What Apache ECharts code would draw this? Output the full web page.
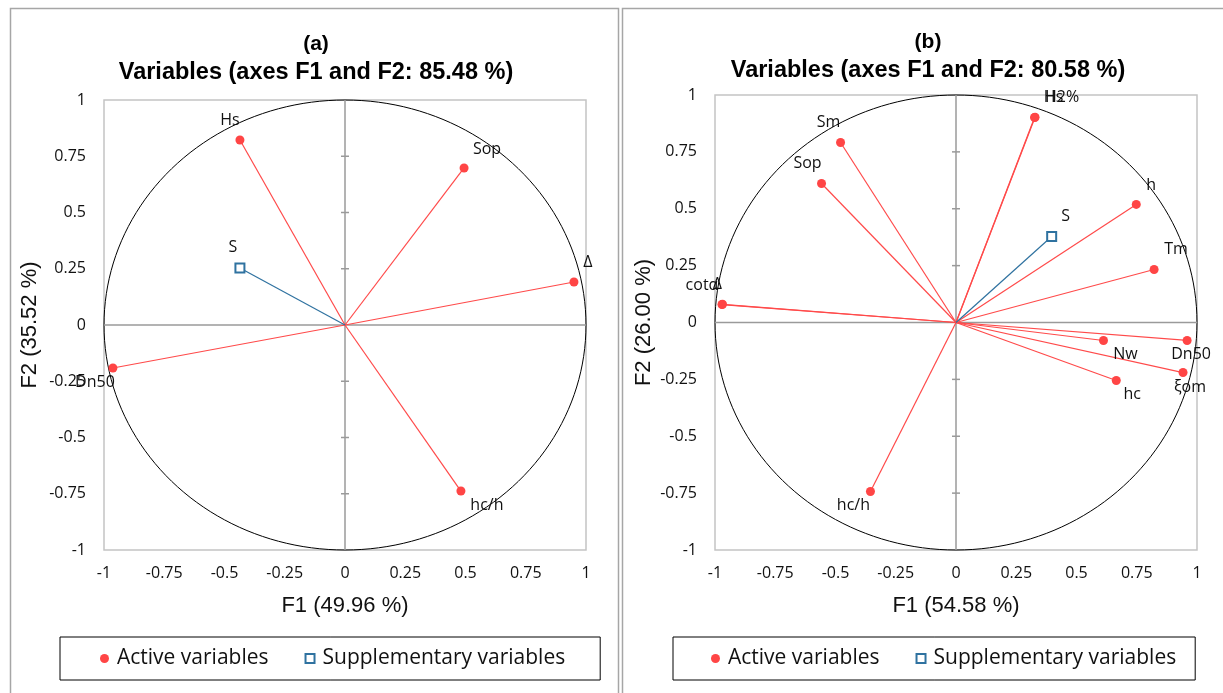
<!DOCTYPE html>
<html>
<head>
<meta charset="utf-8">
<title>Variables (axes F1 and F2)</title>
<script src="https://cdn.jsdelivr.net/npm/echarts@6/dist/echarts.min.js"></script>
<style>
  html, body { margin: 0; padding: 0; background: #fff; }
  #chart { width: 1223px; height: 693px; }
</style>
</head>
<body>
<div id="chart"></div>
<script>
// Axis ticks shared by both correlation circles
const ticks = [-1, -0.75, -0.5, -0.25, 0, 0.25, 0.5, 0.75, 1];

// Panel (a): active variables
const namesA = ['Hs', 'Sop', 'Δ', 'Dn50', 'hc/h'];
const f1A = [-0.436, 0.494, 0.950, -0.963, 0.481];
const f2A = [0.822, 0.698, 0.191, -0.191, -0.738];
// Panel (a): supplementary variables
const suppNamesA = ['S'];
const suppF1A = [-0.436];
const suppF2A = [0.253];

// Panel (b): active variables
const namesB = ['Hs', 'H2%', 'Sm', 'Sop', 'h', 'Tm', 'cotα', 'Δ', 'Dn50', 'Nw', 'ξom', 'hc', 'hc/h'];
const f1B = [0.326, 0.328, -0.479, -0.558, 0.748, 0.822, -0.971, -0.969, 0.959, 0.612, 0.942, 0.665, -0.355];
const f2B = [0.901, 0.902, 0.791, 0.611, 0.519, 0.233, 0.079, 0.080, -0.079, -0.079, -0.220, -0.255, -0.743];
// Panel (b): supplementary variables
const suppNamesB = ['S'];
const suppF1B = [0.397];
const suppF2B = [0.378];

// Panel headings and explained variance of each factor
const titlesTop = ['(a)', '(b)'];
const titlesMain = ['Variables (axes F1 and F2: 85.48 %)', 'Variables (axes F1 and F2: 80.58 %)'];
const xNames = ['F1 (49.96 %)', 'F1 (54.58 %)'];
const yNames = ['F2 (35.52 %)', 'F2 (26.00 %)'];

// Label placement around each marker (pixels, relative to the marker centre)
const labelShiftA = {
  'Hs': [-10, -20], 'Sop': [23, -19], 'Δ': [14, -20], 'Dn50': [-18, 14], 'hc/h': [26, 14], 'S': [-7, -21]
};
const labelShiftB = {
  'Hs': [19, -20], 'H2%': [27, -20], 'Sm': [-12, -20], 'Sop': [-14, -20], 'h': [15, -19],
  'Tm': [22, -20], 'cotα': [-20, -19], 'Δ': [-5, -20], 'Dn50': [4, 14], 'Nw': [22, 14],
  'ξom': [7, 15], 'hc': [16, 14], 'hc/h': [-17, 14], 'S': [14, -20]
};

const RED = '#ff4545';
const RED_LINE = '#ff4a4a';
const BLUE = '#2f72a0';
const TEXT = '#111';
const LABEL_FONT = '"Open Sans", "DejaVu Sans", sans-serif';
const ARIAL = '"Liberation Sans", Arial, sans-serif';

function points(names, xs, ys, shifts) {
  return names.map((n, i) => ({
    name: n,
    value: [xs[i], ys[i]],
    label: { offset: shifts[n] || [0, -18] }
  }));
}

// Correlation circle, zero axes and the small ticks crossing the vertical axis
function renderFrame(params, api) {
  const children = [];
  const pts = [];
  for (let d = 0; d <= 360; d += 2) {
    const t = d * Math.PI / 180;
    pts.push(api.coord([Math.cos(t), Math.sin(t)]));
  }
  children.push({ type: 'polyline', shape: { points: pts }, style: { stroke: '#000', lineWidth: 1, fill: null } });
  const axisStyle = { stroke: '#9a9a9a', lineWidth: 1.5 };
  const l = api.coord([-1, 0]), r = api.coord([1, 0]);
  const b = api.coord([0, -1]), t = api.coord([0, 1]);
  children.push({ type: 'line', shape: { x1: l[0], y1: l[1], x2: r[0], y2: r[1] }, style: axisStyle });
  children.push({ type: 'line', shape: { x1: b[0], y1: b[1], x2: t[0], y2: t[1] }, style: axisStyle });
  ticks.forEach(v => {
    if (v === 0 || Math.abs(v) === 1) return;
    const py = api.coord([0, v]);
    children.push({ type: 'line', shape: { x1: py[0] - 4, y1: py[1], x2: py[0] + 4, y2: py[1] }, style: axisStyle });
  });
  return { type: 'group', children: children };
}

// Vector from the origin to a variable
function vectorRenderer(color) {
  return function (params, api) {
    const o = api.coord([0, 0]);
    const p = api.coord([api.value(0), api.value(1)]);
    return { type: 'line', shape: { x1: o[0], y1: o[1], x2: p[0], y2: p[1] }, style: { stroke: color, lineWidth: 1.2 } };
  };
}

function zip(xs, ys) { return xs.map((x, i) => [x, ys[i]]); }

const grids = [
  { left: 104, top: 100, width: 482, height: 450 },
  { left: 715, top: 95, width: 482, height: 455 }
];

const axisLabel = { fontFamily: LABEL_FONT, fontSize: 16, color: TEXT };
const titleStyle = (size) => ({ fontFamily: ARIAL, fontSize: size, fontWeight: 'bold', color: '#000' });

const option = {
  animation: false,
  backgroundColor: '#fff',
  graphic: [
    { type: 'rect', shape: { x: 10.5, y: 8.5, width: 608, height: 700 }, style: { fill: null, stroke: '#a6a6a6', lineWidth: 1.5 }, silent: true },
    { type: 'rect', shape: { x: 622.5, y: 8.5, width: 620, height: 700 }, style: { fill: null, stroke: '#a6a6a6', lineWidth: 1.5 }, silent: true }
  ],
  title: [
    { text: titlesTop[0], left: 311, top: 29, textAlign: 'center', textStyle: titleStyle(21) },
    { text: titlesMain[0], left: 311, top: 56, textAlign: 'center', textStyle: titleStyle(23.5) },
    { text: titlesTop[1], left: 923, top: 27, textAlign: 'center', textStyle: titleStyle(21) },
    { text: titlesMain[1], left: 923, top: 54, textAlign: 'center', textStyle: titleStyle(23.5) }
  ],
  legend: [0, 1].map(i => ({
    left: i === 0 ? 60 : 673,
    top: 637,
    orient: 'horizontal',
    padding: i === 0 ? [11, 35, 11, 40] : [11, 19, 11, 38],
    itemGap: 36,
    itemWidth: 9,
    itemHeight: 9,
    borderColor: '#000',
    borderWidth: 1,
    selectedMode: false,
    textStyle: { fontFamily: LABEL_FONT, fontSize: 21, color: TEXT, padding: [0, 0, 0, 3] },
    data: [
      { name: 'Active variables', icon: 'circle' },
      { name: 'Supplementary variables', icon: 'emptyRect' }
    ]
  })),
  grid: grids.map(g => Object.assign({ show: true, borderColor: '#c4c4c4', borderWidth: 1.5, backgroundColor: 'transparent' }, g)),
  xAxis: [0, 1].map(i => ({
    gridIndex: i, type: 'value', min: -1, max: 1, interval: 0.25,
    axisLine: { show: false }, axisTick: { show: false }, splitLine: { show: false },
    axisLabel: Object.assign({ margin: 15 }, axisLabel),
    name: xNames[i], nameLocation: 'middle', nameGap: 45,
    nameTextStyle: { fontFamily: ARIAL, fontSize: 22, color: TEXT }
  })),
  yAxis: [0, 1].map(i => ({
    gridIndex: i, type: 'value', min: -1, max: 1, interval: 0.25,
    axisLine: { show: false }, axisTick: { show: false }, splitLine: { show: false },
    axisLabel: Object.assign({ margin: 18 }, axisLabel),
    name: yNames[i], nameLocation: 'middle', nameGap: i === 0 ? 63 : 60,
    nameTextStyle: { fontFamily: ARIAL, fontSize: 22, color: TEXT }
  })),
  series: []
};

const panels = [
  { active: points(namesA, f1A, f2A, labelShiftA), supp: points(suppNamesA, suppF1A, suppF2A, labelShiftA),
    vecA: zip(f1A, f2A), vecS: zip(suppF1A, suppF2A) },
  { active: points(namesB, f1B, f2B, labelShiftB), supp: points(suppNamesB, suppF1B, suppF2B, labelShiftB),
    vecA: zip(f1B, f2B), vecS: zip(suppF1B, suppF2B) }
];

const pointLabel = { show: true, position: 'inside', formatter: '{b}', fontFamily: LABEL_FONT, fontSize: 16, color: TEXT };

panels.forEach((p, i) => {
  option.series.push(
    { type: 'custom', name: 'frame', xAxisIndex: i, yAxisIndex: i, silent: true, z: 1, data: [[0, 0]], renderItem: renderFrame },
    { type: 'custom', name: 'activeVectors', xAxisIndex: i, yAxisIndex: i, silent: true, z: 2, data: p.vecA, renderItem: vectorRenderer(RED_LINE) },
    { type: 'custom', name: 'suppVectors', xAxisIndex: i, yAxisIndex: i, silent: true, z: 2, data: p.vecS, renderItem: vectorRenderer(BLUE) },
    { type: 'scatter', name: 'Active variables', xAxisIndex: i, yAxisIndex: i, z: 3, symbol: 'circle', symbolSize: 9,
      itemStyle: { color: RED, opacity: 1 }, label: pointLabel, data: p.active },
    { type: 'scatter', name: 'Supplementary variables', xAxisIndex: i, yAxisIndex: i, z: 3, symbol: 'emptyRect', symbolSize: 9,
      itemStyle: { color: BLUE, borderWidth: 1.3, opacity: 1 }, label: pointLabel, data: p.supp }
  );
});

const chart = echarts.init(document.getElementById('chart'));
chart.setOption(option);
</script>
</body>
</html>
